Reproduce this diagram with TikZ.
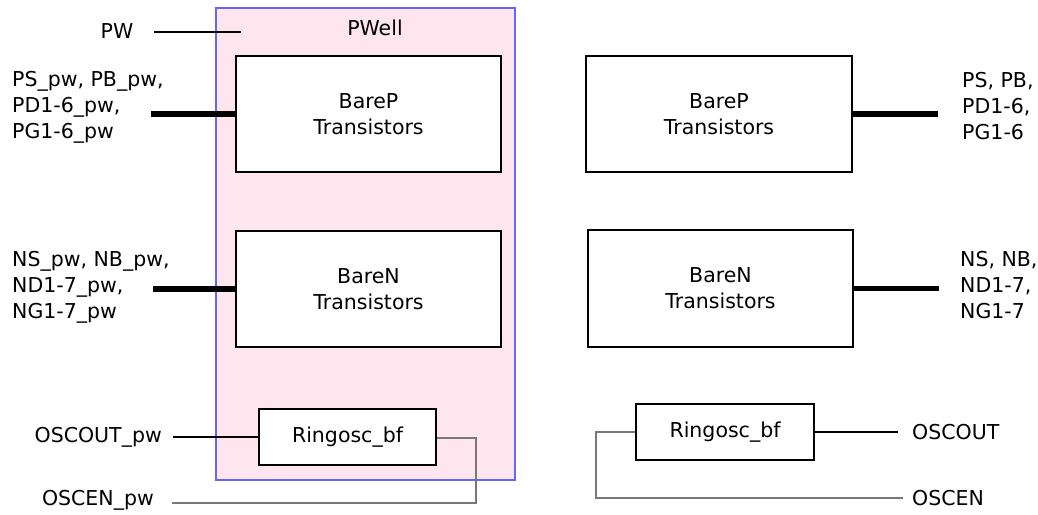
\documentclass[tikz,border=0pt]{standalone}
\usepackage{fontspec}
\setmainfont{DejaVu Sans}
\definecolor{wellfill}{RGB}{255,230,238}
\definecolor{wellblue}{RGB}{100,100,255}
\definecolor{wiregray}{RGB}{120,120,120}
\begin{document}
\begin{tikzpicture}[x=1pt,y=-1pt,
  every node/.style={font={\fontsize{20.5}{26}\selectfont}},
  blockbox/.style={draw, line width=2pt, fill=white, align=center, inner sep=0pt},
  lbl/.style={inner sep=0pt, align=left},
  bus/.style={line width=5.5pt},
  wire/.style={line width=1.2pt},
  graywire/.style={line width=1.3pt, draw=wiregray}]
\useasboundingbox (0,0) rectangle (1038,514);
% PWell region
\node[draw=wellblue, fill=wellfill, line width=1.3pt, minimum width=299pt, minimum height=472pt, inner sep=0pt] (well) at (365.5,244) {};
\node[inner sep=0pt] (welllbl) at (375,28) {PWell};
\node[inner sep=0pt] (pw) at (117,31) {PW};
\coordinate (pwstart) at (154,32);
\coordinate (pwend) at (241,32);
\draw[wire] (pwstart) -- (pwend);
% Left blocks
\node[blockbox, minimum width=265pt, minimum height=116pt] (bpl) at (368.5,114) {BareP\\Transistors};
\node[blockbox, minimum width=265pt, minimum height=116pt] (bnl) at (368.5,289) {BareN\\Transistors};
\node[blockbox, minimum width=177pt, minimum height=56pt] (rol) at (347.5,437) {Ringosc\_bf};
% Right blocks
\node[blockbox, minimum width=266pt, minimum height=116pt] (bpr) at (719,114) {BareP\\Transistors};
\node[blockbox, minimum width=265pt, minimum height=117pt] (bnr) at (720.5,288.5) {BareN\\Transistors};
\node[blockbox, minimum width=178pt, minimum height=56pt] (ror) at (725,432) {Ringosc\_bf};
% Left labels
\node[lbl, anchor=west] (plbl) at (12,107) {PS\_pw, PB\_pw,\\PD1-6\_pw,\\PG1-6\_pw};
\node[lbl, anchor=west] (nlbl) at (12,287) {NS\_pw, NB\_pw,\\ND1-7\_pw,\\NG1-7\_pw};
\node[inner sep=0pt, anchor=east] (oscoutl) at (162,437) {OSCOUT\_pw};
\node[inner sep=0pt, anchor=east] (oscenl) at (154,500) {OSCEN\_pw};
% Right labels
\node[lbl, anchor=west] (prlbl) at (962,106) {PS, PB,\\PD1-6,\\PG1-6};
\node[lbl, anchor=west] (nrlbl) at (960,285) {NS, NB,\\ND1-7,\\NG1-7};
\node[inner sep=0pt, anchor=west] (oscoutr) at (912,432) {OSCOUT};
\node[inner sep=0pt, anchor=west] (oscenr) at (912,498) {OSCEN};
% free ends
\coordinate (pbusl) at (151,114);
\coordinate (nbusl) at (153,289);
\coordinate (pbusr) at (938,114);
\coordinate (nbusr) at (939,288.5);
\coordinate (oscoutlw) at (173,437);
\coordinate (oscenlw) at (172,503);
\coordinate (oscoutrw) at (898,432);
\coordinate (oscenrw) at (903,498);
% Buses
\draw[bus] (pbusl) -- (bpl.west);
\draw[bus] (nbusl) -- (bnl.west);
\draw[bus] (bpr.east) -- (pbusr);
\draw[bus] (bnr.east) -- (nbusr);
% Oscillator wires, left
\draw[wire] (oscoutlw) -- (rol.west);
\draw[graywire] (oscenlw) -- (476,503) -- (476,438) -- (rol.east |- 0,438);
% Oscillator wires, right
\draw[wire] (ror.east) -- (oscoutrw);
\draw[graywire] (ror.west) -- (596,432) -- (596,498) -- (oscenrw);
\end{tikzpicture}
\end{document}
